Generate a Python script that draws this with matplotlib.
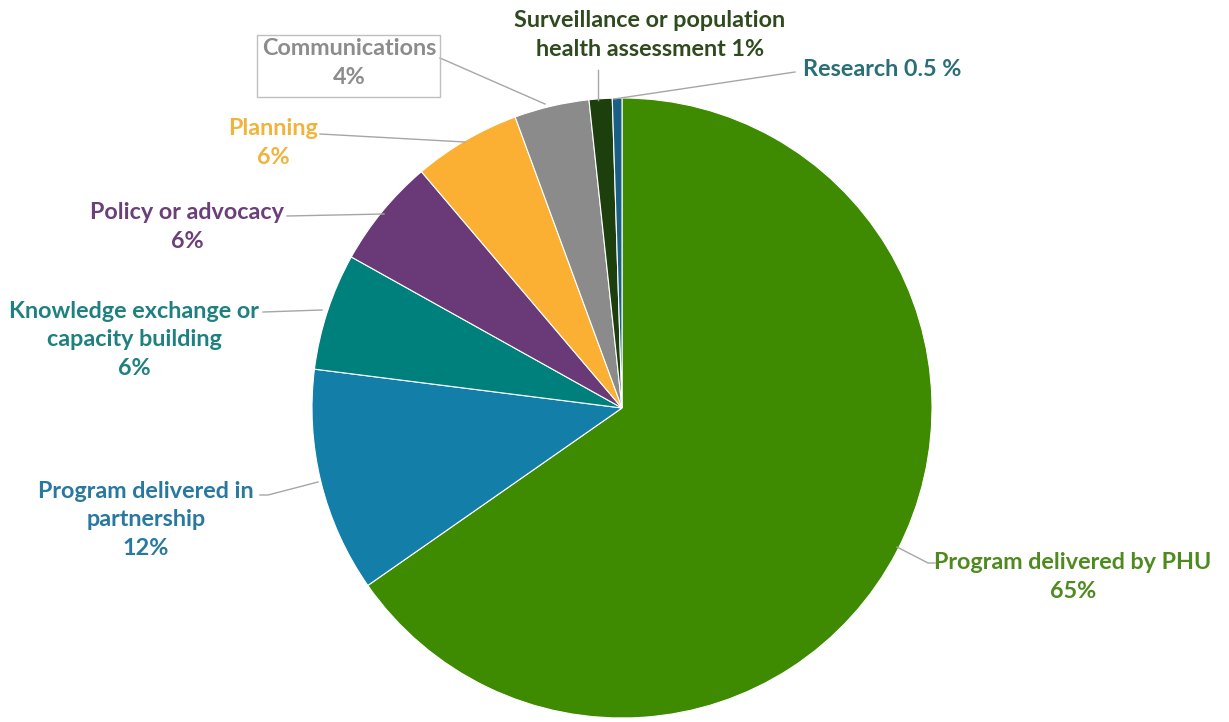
import matplotlib
matplotlib.use("Agg")
import matplotlib.pyplot as plt
from matplotlib.patches import FancyBboxPatch

categories = ["Program delivered by PHU", "Program delivered in partnership",
              "Knowledge exchange or capacity building", "Policy or advocacy",
              "Planning", "Communications",
              "Surveillance or population health assessment", "Research"]
values = [65.3, 11.7, 6.1, 5.7, 5.6, 3.9, 1.2, 0.5]
labels = ["Program delivered by PHU\n65%",
          "Program delivered in\npartnership\n12%",
          "Knowledge exchange or\ncapacity building\n6%",
          "Policy or advocacy\n6%",
          "Planning\n6%",
          "Communications\n4%",
          "Surveillance or population\nhealth assessment 1%",
          "Research 0.5 %"]
slice_colors = ["#3E8A00", "#137EA8", "#00807C", "#6A3A78",
                "#FBB034", "#8B8B8B", "#1D3F0E", "#1A5F86"]
text_colors = ["#4E8A1E", "#2878A0", "#1F8080", "#6B3F7A",
               "#F2B33D", "#8C8C8C", "#2E4A1E", "#2A6E78"]

W, H = 1229, 722
fig = plt.figure(figsize=(W / 100, H / 100), dpi=100)
ax = fig.add_axes([0, 0, 1, 1])

cx, cy, R = 622, H - 408, 310
ax.pie(values, colors=slice_colors, startangle=90, counterclock=False,
       center=(cx, cy), radius=R, frame=True,
       wedgeprops=dict(edgecolor="white", linewidth=0.8))
ax.set_xlim(0, W)
ax.set_ylim(0, H)
ax.set_aspect("equal")
ax.axis("off")

FONT = "Lato"
FS = 16.8

def Y(y):
    return H - y

# (text x, text y (center of block, image coords), leader points in image coords)
layout = [
    (1073, 577, [(935, 563), (928, 563), (897, 547)]),
    (146, 520, [(260, 495), (268, 495), (318, 482)]),
    (134, 340, [(263, 312), (322, 310)]),
    (187, 227, [(287, 216), (384, 214)]),
    (273, 143, [(320, 134), (465, 142)]),
    (349, 63, [(440, 58), (545, 104)]),
    (650, 35, [(598, 70), (598, 100)]),
    (882, 70, [(795, 72), (614, 99)]),
]

for lab, col, (tx, ty, pts) in zip(labels, text_colors, layout):
    ax.text(tx, Y(ty), lab, ha="center", va="center", color=col, fontsize=FS,
            fontweight="bold", family=FONT, linespacing=1.45, zorder=5)
    xs = [p[0] for p in pts]
    ys = [Y(p[1]) for p in pts]
    ax.plot(xs, ys, color="#A6A6A6", lw=1.0, zorder=4)

# box around Communications label
box = FancyBboxPatch((257, Y(97)), 183, 62, boxstyle="square,pad=0",
                     fill=False, edgecolor="#BFBFBF", lw=1.0, zorder=4)
ax.add_patch(box)

fig.savefig("out.png", dpi=100, facecolor="white")
